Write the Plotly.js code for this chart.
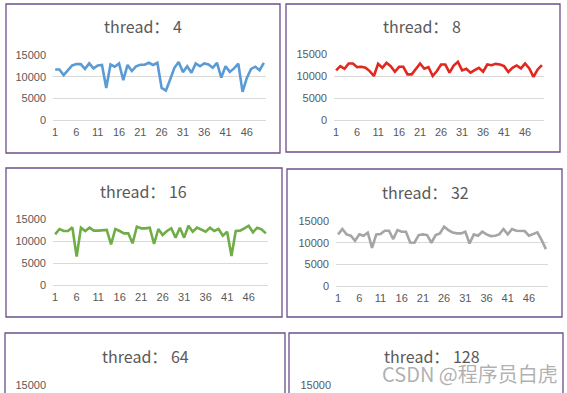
<!DOCTYPE html>
<html><head><meta charset="utf-8">
<script src="https://cdn.plot.ly/plotly-3.0.1.min.js"></script>
<style>html,body{margin:0;padding:0;overflow:hidden;background:#fff}</style>
</head><body><div id="chart" style="width:567px;height:540px"></div>
<script>
const categories = [1,2,3,4,5,6,7,8,9,10,11,12,13,14,15,16,17,18,19,20,21,22,23,24,25,26,27,28,29,30,31,32,33,34,35,36,37,38,39,40,41,42,43,44,45,46,47,48,49,50];
const tickLabels = [1,6,11,16,21,26,31,36,41,46];
const yTicks = [0,5000,10000,15000];
const titles = ["thread： 4","thread： 8","thread： 16","thread： 32","thread： 64","thread： 128"];
const thread4 = [11670,11670,10350,11500,12600,12900,12900,11800,13060,11900,12600,12700,7400,12800,12300,13060,9200,12700,11300,12400,12750,12750,13200,12700,13200,7400,6800,9350,12050,13400,11050,12400,10900,13060,12400,13060,12800,12050,13200,9800,12400,11100,11900,13000,6500,9700,11800,12300,11500,13200];
const thread8 = [11270,12240,11640,12840,12840,12010,12090,11870,11120,10000,12760,11870,12990,12240,10970,12090,12090,10370,10370,11490,12840,11640,12010,10000,11120,12610,12610,10750,12390,13210,11270,11640,10750,11340,11870,10970,12610,12460,12760,12610,12240,10900,11870,12390,11720,12840,11720,9780,11490,12460];
const thread16 = [11520,12730,12270,12270,13110,6440,13030,12270,13030,12350,12350,12350,12500,9240,12730,12270,11740,11740,9470,13260,12880,12880,13030,9320,12730,11360,12270,12880,10760,13030,10760,13480,12120,13030,12650,12120,13030,12270,12730,11210,12120,6590,12270,12350,12880,13480,11970,13030,12650,11740];
const thread32 = [11910,13150,11910,11600,10440,11910,11600,12300,8820,11910,11990,12760,12760,10830,12910,12530,12530,10050,9980,11750,11910,11750,9980,11750,12140,13690,12910,12370,12140,12140,12530,9820,11910,11600,12530,11910,11520,11600,11910,13150,11910,13150,12760,12760,12680,11600,11990,12370,10600,8510];
const thread64 = [];
const thread128 = [];
const seriesList = [thread4, thread8, thread16, thread32, thread64, thread128];
const colors = ["#5B9BD5","#E2271F","#70AD47","#A5A5A5","#5B9BD5","#5B9BD5"];

const W = 567, H = 540;
// panel geometry in pixels: frame [x0,y0,x1,y1], plot x [l,r], y of 15000 and 0, title centre; cut = panel runs past the page bottom
const panels = [
  {frame:[6,4,280,153],   px:[53,266],  py:[55,120],  t:[143,26],  cut:false},
  {frame:[286,4,560,152], px:[334,544], py:[54,120],  t:[422,26],  cut:false},
  {frame:[6,168,282,317], px:[53,268],  py:[219,285], t:[143,191], cut:false},
  {frame:[287,169,562,317],px:[336,548],py:[221,286], t:[425,192], cut:false},
  {frame:[5,333,285,482], px:[53,268],  py:[385,451], t:[145,356], cut:true},
  {frame:[289,333,563,482],px:[338,548],py:[385,451], t:[432,356], cut:true}
];
const fx = p => p / W, fy = p => 1 - p / H;
const tickFont = {family:"Liberation Sans, Arial, sans-serif", size:11, color:"#595959"};
const layout = {
  width: W, height: H, margin:{l:0,r:0,t:0,b:0},
  paper_bgcolor:"#fff", plot_bgcolor:"rgba(0,0,0,0)", showlegend:false,
  shapes:[], annotations:[]
};
const data = [];
panels.forEach((p, i) => {
  const n = i + 1;
  const xa = "xaxis" + (n === 1 ? "" : n), ya = "yaxis" + (n === 1 ? "" : n);
  const xr = "x" + (n === 1 ? "" : n), yr = "y" + (n === 1 ? "" : n);
  const yLabelVals = p.cut ? yTicks.filter(v => v === 15000) : yTicks;
  layout[xa] = {domain:[fx(p.px[0]), fx(p.px[1])], anchor:yr, range:[0.5,50.5],
    tickmode:"array", tickvals:tickLabels, ticktext:tickLabels.map(String),
    showticklabels:!p.cut,
    showgrid:false, zeroline:false, showline:false, ticks:"", ticklabelstandoff:4,
    tickfont:tickFont, fixedrange:true};
  layout[ya] = {domain:[fy(p.py[1]), fy(p.py[0])], anchor:xr, range:[0,15000],
    tickmode:"array", tickvals:yTicks, ticktext:yTicks.map(v => yLabelVals.includes(v) ? String(v) : ""),
    showgrid:true, gridcolor:"#D9D9D9", gridwidth:1, zeroline:true, zerolinecolor:"#D9D9D9", zerolinewidth:1,
    showline:false, ticks:"", ticklabelstandoff:6, tickfont:tickFont, fixedrange:true};
  const ys = seriesList[i];
  data.push({type:"scatter", mode:"lines", x:categories.slice(0, ys.length), y:ys,
    xaxis:xr, yaxis:yr, line:{color:colors[i], width:2.6}, hoverinfo:"skip"});
  layout.shapes.push({type:"rect", xref:"paper", yref:"paper",
    x0:fx(p.frame[0]), x1:fx(p.frame[2]), y0:fy(p.frame[3]), y1:fy(p.frame[1]),
    line:{color:"#6B4F8C", width:1.3}, fillcolor:"rgba(0,0,0,0)", layer:"below"});
  layout.annotations.push({xref:"paper", yref:"paper", x:fx(p.t[0]), y:fy(p.t[1]),
    xanchor:"center", yanchor:"middle", showarrow:false, text:titles[i],
    font:{family:"Noto Sans CJK SC, sans-serif", size:16, color:"#595959"}});
});
layout.annotations.push({xref:"paper", yref:"paper", x:fx(470), y:fy(373),
  xanchor:"center", yanchor:"middle", showarrow:false, text:"CSDN @程序员白虎",
  font:{family:"Noto Sans CJK SC, sans-serif", size:20, color:"rgba(150,150,150,0.75)"}});
Plotly.newPlot("chart", data, layout, {staticPlot:true, displayModeBar:false});
</script></body></html>
